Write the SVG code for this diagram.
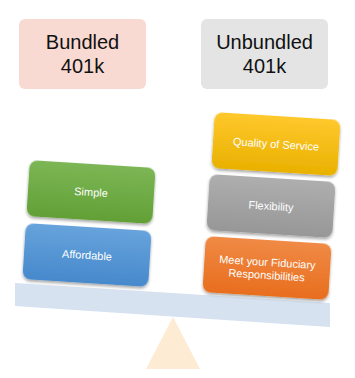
<svg xmlns="http://www.w3.org/2000/svg" width="355" height="378" viewBox="0 0 355 378">
<style>
.title{font-family:"Liberation Sans",Arial,sans-serif;font-size:20px;fill:#111;text-anchor:middle}
.lbl{font-family:"Liberation Sans",Arial,sans-serif;font-size:11px;fill:#fff;text-anchor:middle}
.box{filter:url(#sh)}
</style>
<defs>
<filter id="sh" x="-20%" y="-20%" width="140%" height="150%">
<feDropShadow dx="0" dy="2" stdDeviation="1.5" flood-color="#000" flood-opacity="0.35"/>
</filter>
<linearGradient id="gG" x1="0" y1="0" x2="0" y2="1"><stop offset="0" stop-color="#7cb655"/><stop offset="1" stop-color="#62a036"/></linearGradient>
<linearGradient id="gB" x1="0" y1="0" x2="0" y2="1"><stop offset="0" stop-color="#67a3dc"/><stop offset="1" stop-color="#4689cc"/></linearGradient>
<linearGradient id="gY" x1="0" y1="0" x2="0" y2="1"><stop offset="0" stop-color="#ffc82c"/><stop offset="1" stop-color="#e9b100"/></linearGradient>
<linearGradient id="gS" x1="0" y1="0" x2="0" y2="1"><stop offset="0" stop-color="#aeaeae"/><stop offset="1" stop-color="#979797"/></linearGradient>
<linearGradient id="gO" x1="0" y1="0" x2="0" y2="1"><stop offset="0" stop-color="#f08a45"/><stop offset="1" stop-color="#e86e1e"/></linearGradient>
</defs>
<g id="fulcrum"><polygon points="173,317 146,369 200,369" fill="#fdebd3"/></g>
<g id="beam"><polygon points="15,283 330,303 330,327 15,306" fill="#d6e2f0"/></g>
<g id="bundled"><rect x="19" y="19" width="127" height="70" rx="6" fill="#f9dad3"/><text class="title" x="82.5" y="49">Bundled</text><text class="title" x="82.5" y="73">401k</text></g>
<g id="unbundled"><rect x="201" y="19" width="127" height="70" rx="6" fill="#e4e4e4"/><text class="title" x="264.5" y="49">Unbundled</text><text class="title" x="264.5" y="73">401k</text></g>
<g id="simple" transform="translate(91,192) rotate(3.6)"><rect class="box" x="-63" y="-28" width="126" height="56" rx="8" fill="url(#gG)"/><text class="lbl" x="0" y="4">Simple</text></g>
<g id="affordable" transform="translate(87,255) rotate(3.6)"><rect class="box" x="-63" y="-28" width="126" height="56" rx="8" fill="url(#gB)"/><text class="lbl" x="0" y="4">Affordable</text></g>
<g id="quality" transform="translate(276,144) rotate(3.6)"><rect class="box" x="-63" y="-28" width="126" height="56" rx="8" fill="url(#gY)"/><text class="lbl" x="0" y="4">Quality of Service</text></g>
<g id="flexibility" transform="translate(271,206) rotate(3.6)"><rect class="box" x="-63" y="-28" width="126" height="56" rx="8" fill="url(#gS)"/><text class="lbl" x="0" y="4">Flexibility</text></g>
<g id="fiduciary" transform="translate(267,268) rotate(3.6)"><rect class="box" x="-63" y="-28" width="126" height="56" rx="8" fill="url(#gO)"/><text class="lbl" x="0" y="-2">Meet your Fiduciary</text><text class="lbl" x="0" y="11">Responsibilities</text></g>
<g id="connectors"/>
</svg>
